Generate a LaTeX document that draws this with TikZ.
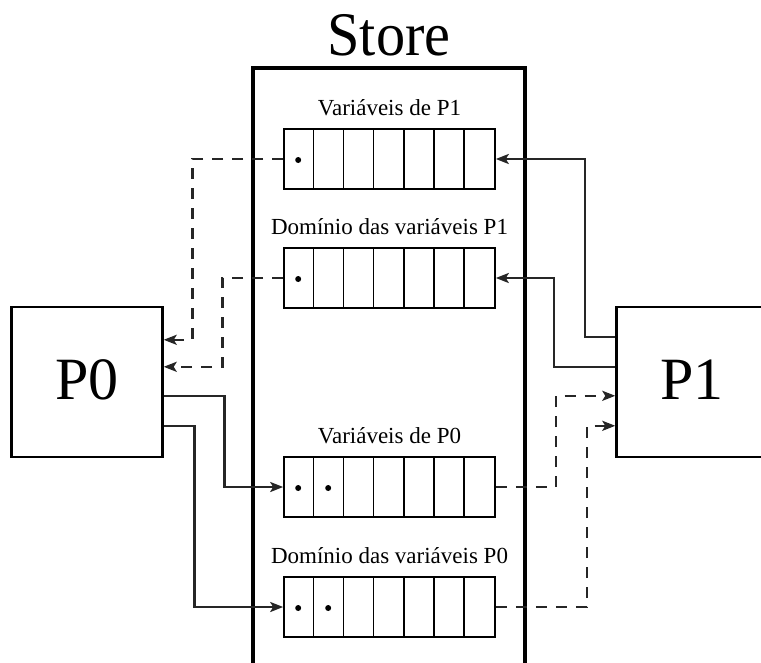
\documentclass[tikz,border=0pt]{standalone}
\usepackage{fontspec}
\setmainfont{Liberation Serif}
\usetikzlibrary{arrows.meta,calc}
\begin{document}
\begin{tikzpicture}[x=1pt,y=-1pt,
  storeline/.style={line width=3.2pt,line join=miter,black},
  pbox/.style={draw,line width=2.4pt,minimum width=151pt,minimum height=150pt,
    font=\fontsize{60}{60}\selectfont,inner sep=0pt},
  cellrow/.style={draw,line width=1.6pt,minimum width=211pt,minimum height=60pt,inner sep=0pt},
  cellline/.style={line width=1.5pt},
  rowlabel/.style={font=\fontsize{23}{23}\selectfont,anchor=base,inner sep=0pt},
  conn/.style={line width=2.6pt,black!85,line join=miter,
    -{Stealth[length=13pt,width=10pt,inset=3pt]}},
  dconn/.style={conn,dash pattern=on 11pt off 9pt},
  slot/.style={black,radius=3pt}
]
\useasboundingbox (0,0) rectangle (761,662);
\clip (0,0) rectangle (761,662);

% the shared store, open at the bottom
\draw[storeline] (253,700) -- (253,68) -- (525,68) -- (525,700);
\node[anchor=base,inner sep=0pt,font=\fontsize{62}{62}\selectfont,xscale=0.94] (store) at (389,55) {Store};

% the two processes
\node[pbox] (p0) at (87,382) {\raisebox{4pt}{P0}};
\node[pbox] (p1) at (692,382) {\raisebox{4pt}{P1}};

% variable rows inside the store
\node[cellrow] (a1) at (389.5,159) {};
\node[cellrow] (a2) at (389.5,278) {};
\node[cellrow] (a3) at (389.5,487) {};
\node[cellrow] (a4) at (389.5,607) {};
\foreach \r in {a1,a2,a3,a4}{
  \foreach \i in {1,...,6}{
    \draw[cellline] ($(\r.north west)+(\i*30.14,0)$) -- ($(\r.south west)+(\i*30.14,0)$);
  }
}

\node[rowlabel] (l1) at (389.5,115) {Variáveis de P1};
\node[rowlabel] (l2) at (389.5,234) {Domínio das variáveis P1};
\node[rowlabel] (l3) at (389.5,443) {Variáveis de P0};
\node[rowlabel] (l4) at (389.5,563) {Domínio das variáveis P0};

% occupied slots
\fill[slot] ($(a1.west)+(15,1)$) circle;
\fill[slot] ($(a2.west)+(15,1)$) circle;
\fill[slot] ($(a3.west)+(15,1)$) circle;
\fill[slot] ($(a3.west)+(45,1)$) circle;
\fill[slot] ($(a4.west)+(15,1)$) circle;
\fill[slot] ($(a4.west)+(45,1)$) circle;

% ports on the process boxes
\coordinate (p0in1)  at ($(p0.north east)+(0,34)$);
\coordinate (p0in2)  at ($(p0.north east)+(0,61)$);
\coordinate (p0out1) at ($(p0.north east)+(0,90)$);
\coordinate (p0out2) at ($(p0.north east)+(0,120)$);
\coordinate (p1out1) at ($(p1.north west)+(0,31)$);
\coordinate (p1out2) at ($(p1.north west)+(0,61)$);
\coordinate (p1in1)  at ($(p1.north west)+(0,90)$);
\coordinate (p1in2)  at ($(p1.north west)+(0,120)$);

% P1 variables read by P0
\draw[dconn] (a1.west) -- ++(-91,0) |- (p0in1);
\draw[dconn] (a2.west) -- ++(-61,0) |- (p0in2);
% P0 writes its own variables
\draw[conn] (p0out1) -- ++(60.5,0) |- (a3.west);
\draw[conn] (p0out2) -- ++(30.5,0) |- (a4.west);
% P1 writes its own variables
\draw[conn] (p1out1) -- ++(-30.5,0) |- (a1.east);
\draw[conn] (p1out2) -- ++(-61.5,0) |- (a2.east);
% P0 variables read by P1
\draw[dconn] (a3.east) -- ++(60,0) |- (p1in1);
\draw[dconn] (a4.east) -- ++(91,0) |- (p1in2);
\end{tikzpicture}
\end{document}
